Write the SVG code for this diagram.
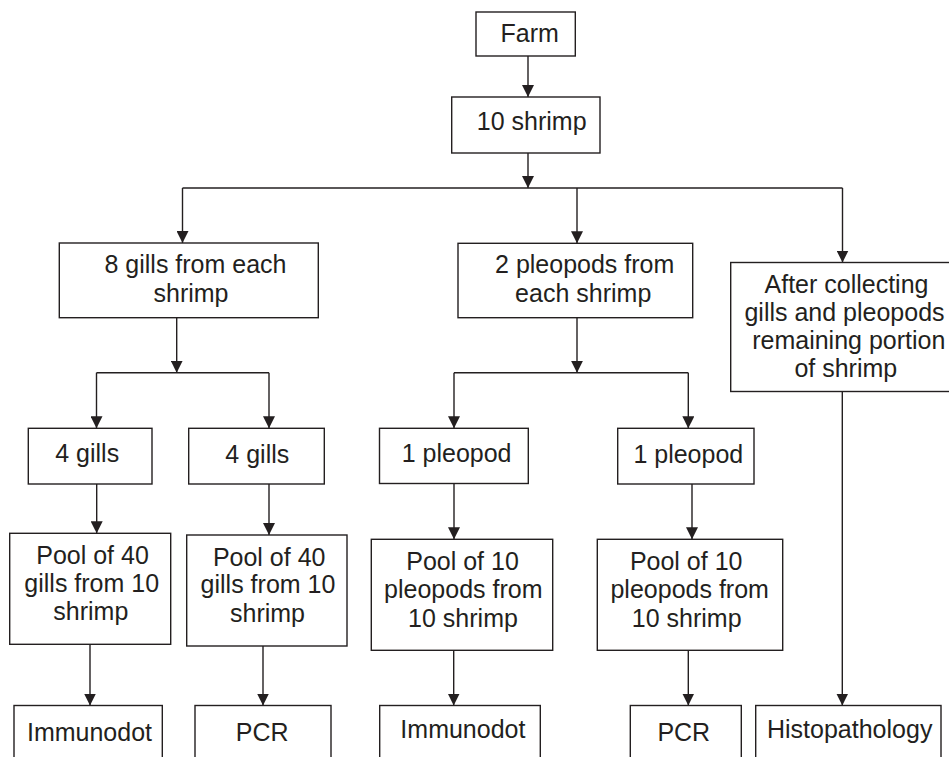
<svg xmlns="http://www.w3.org/2000/svg" width="949" height="757" viewBox="0 0 949 757">
<style>
  .box { fill: #ffffff; stroke: #231f20; stroke-width: 1.4; }
  .t { font-family: "Liberation Sans", Arial, sans-serif; font-size: 25px; fill: #231f20; text-anchor: middle; }
  .c { fill: none; stroke: #231f20; stroke-width: 1.4; }
</style>
<defs>
  <marker id="ah" markerUnits="userSpaceOnUse" markerWidth="12" markerHeight="12" refX="12" refY="6" orient="auto">
    <path d="M0,0 L12,6 L0,12 Z" fill="#231f20"/>
  </marker>
</defs>
<rect width="949" height="757" fill="#ffffff"/>
<g id="connectors">
  <path class="c" d="M528,56 V97" marker-end="url(#ah)"/>
  <path class="c" d="M528,153 V188" marker-end="url(#ah)"/>
  <path class="c" d="M182.5,188 H842.5"/>
  <path class="c" d="M182.5,188 V243" marker-end="url(#ah)"/>
  <path class="c" d="M577,188 V243.3" marker-end="url(#ah)"/>
  <path class="c" d="M842.5,188 V262.5" marker-end="url(#ah)"/>
  <path class="c" d="M176.7,318 V372.7" marker-end="url(#ah)"/>
  <path class="c" d="M96.5,372.7 H269"/>
  <path class="c" d="M96.5,372.7 V428.3" marker-end="url(#ah)"/>
  <path class="c" d="M269,372.7 V428.3" marker-end="url(#ah)"/>
  <path class="c" d="M577,318 V372.7" marker-end="url(#ah)"/>
  <path class="c" d="M454,372.7 H688.3"/>
  <path class="c" d="M454,372.7 V428.3" marker-end="url(#ah)"/>
  <path class="c" d="M688.3,372.7 V428.3" marker-end="url(#ah)"/>
  <path class="c" d="M96.7,484 V533.3" marker-end="url(#ah)"/>
  <path class="c" d="M269,484 V535" marker-end="url(#ah)"/>
  <path class="c" d="M454,484 V539.3" marker-end="url(#ah)"/>
  <path class="c" d="M692,484 V539.3" marker-end="url(#ah)"/>
  <path class="c" d="M90,644.3 V705.5" marker-end="url(#ah)"/>
  <path class="c" d="M263,644 V705.5" marker-end="url(#ah)"/>
  <path class="c" d="M453.7,650.3 V705.5" marker-end="url(#ah)"/>
  <path class="c" d="M688.3,650.3 V705.5" marker-end="url(#ah)"/>
  <path class="c" d="M842.3,391.5 V705.5" marker-end="url(#ah)"/>
</g>
<g id="farm">
  <rect class="box" x="476" y="12" width="99.3" height="44"/>
  <text class="t" x="529.7" y="42.3">Farm</text>
</g>
<g id="shrimp10">
  <rect class="box" x="451.7" y="97" width="148.3" height="56"/>
  <text class="t" x="531.7" y="130">10 shrimp</text>
</g>
<g id="gills8">
  <rect class="box" x="59.3" y="243" width="259" height="74.7"/>
  <text class="t" x="195.5" y="273.3">8 gills from each</text>
  <text class="t" x="191" y="302">shrimp</text>
</g>
<g id="pleopods2">
  <rect class="box" x="458" y="243.3" width="234.7" height="74.4"/>
  <text class="t" x="584.7" y="273.3">2 pleopods from</text>
  <text class="t" x="583.2" y="301.7">each shrimp</text>
</g>
<g id="remaining">
  <rect class="box" x="730.7" y="262.5" width="230" height="129"/>
  <text class="t" x="846.5" y="292.7">After collecting</text>
  <text class="t" x="844.5" y="320.7">gills and pleopods</text>
  <text class="t" x="848.8" y="349">remaining portion</text>
  <text class="t" x="845.8" y="376.7">of shrimp</text>
</g>
<g id="gills4a">
  <rect class="box" x="28.3" y="428.3" width="123.7" height="55.7"/>
  <text class="t" x="87.2" y="461.7">4 gills</text>
</g>
<g id="gills4b">
  <rect class="box" x="188.7" y="428.3" width="135.6" height="55.7"/>
  <text class="t" x="257.3" y="463.3">4 gills</text>
</g>
<g id="pleopod1a">
  <rect class="box" x="379.5" y="428.3" width="148.8" height="55.2"/>
  <text class="t" x="456.6" y="461.7">1 pleopod</text>
</g>
<g id="pleopod1b">
  <rect class="box" x="617.7" y="428.3" width="136.3" height="55.7"/>
  <text class="t" x="688.3" y="463.3">1 pleopod</text>
</g>
<g id="pool1">
  <rect class="box" x="9.7" y="533.3" width="161" height="111"/>
  <text class="t" x="92.5" y="564">Pool of 40</text>
  <text class="t" x="91.7" y="591.7">gills from 10</text>
  <text class="t" x="90.8" y="620">shrimp</text>
</g>
<g id="pool2">
  <rect class="box" x="186.7" y="535" width="160.3" height="111"/>
  <text class="t" x="269.2" y="566">Pool of 40</text>
  <text class="t" x="268" y="593.3">gills from 10</text>
  <text class="t" x="267.5" y="621.7">shrimp</text>
</g>
<g id="pool3">
  <rect class="box" x="371.3" y="539.3" width="181.4" height="111"/>
  <text class="t" x="462.5" y="570">Pool of 10</text>
  <text class="t" x="463.3" y="598.3">pleopods from</text>
  <text class="t" x="463" y="626.7">10 shrimp</text>
</g>
<g id="pool4">
  <rect class="box" x="597.3" y="539.3" width="185.4" height="111"/>
  <text class="t" x="686.2" y="570">Pool of 10</text>
  <text class="t" x="689.7" y="598.3">pleopods from</text>
  <text class="t" x="686.7" y="626.7">10 shrimp</text>
</g>
<g id="immunodot1">
  <rect class="box" x="14" y="705.5" width="148.3" height="70"/>
  <text class="t" x="89.5" y="740.7">Immunodot</text>
</g>
<g id="pcr1">
  <rect class="box" x="195" y="705.5" width="136" height="70"/>
  <text class="t" x="262.2" y="740.7">PCR</text>
</g>
<g id="immunodot2">
  <rect class="box" x="379.7" y="705.5" width="160.6" height="70"/>
  <text class="t" x="462.9" y="738.3">Immunodot</text>
</g>
<g id="pcr2">
  <rect class="box" x="630.3" y="705.5" width="111" height="70"/>
  <text class="t" x="683.8" y="740.7">PCR</text>
</g>
<g id="histopathology">
  <rect class="box" x="755.7" y="705.5" width="185.3" height="70"/>
  <text class="t" x="849.7" y="738.3">Histopathology</text>
</g>
</svg>
